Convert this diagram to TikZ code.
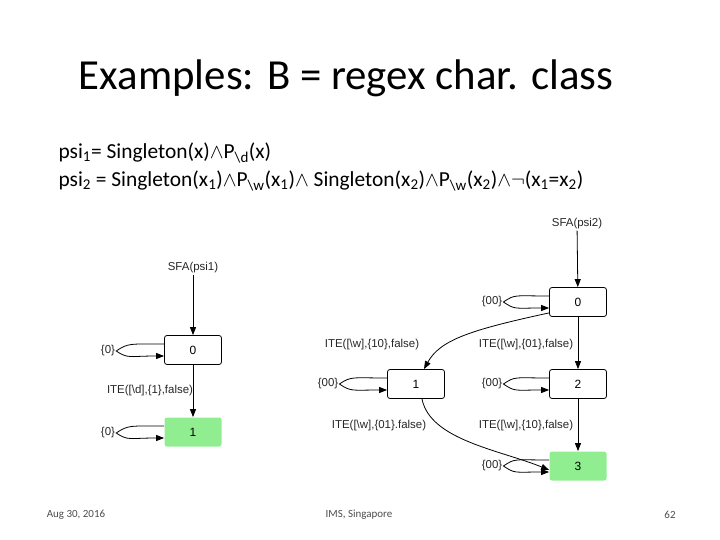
\documentclass[tikz,border=0pt]{standalone}
\usepackage{fontspec}
\setmainfont{Carlito}
\newfontfamily\diag{Liberation Sans}
\usetikzlibrary{arrows.meta}
\definecolor{lg}{RGB}{144,238,144}
\tikzset{
  st/.style={draw, rounded corners=2.5pt, minimum width=57bp, minimum height=29bp, font=\diag\fontsize{12}{14}\selectfont, line width=0.8pt},
  lbl/.style={font=\diag\fontsize{11.5}{13}\selectfont, text=black!85, inner sep=1pt},
  ed/.style={-{Triangle[length=8bp,width=6bp]}, line width=0.8pt},
  foot/.style={font=\fontsize{11}{13}\selectfont, text=black!70}
}
\begin{document}
\begin{tikzpicture}[x=1bp,y=-1bp]
\useasboundingbox (0,0) rectangle (720,540);
\node (title) at (346,78) {\fontsize{43}{50}\selectfont Examples: B = regex char. class};
\node[anchor=west] (l1) at (55,153) {\fontsize{21.5}{26}\selectfont psi\textsubscript{1}= Singleton(x)$\wedge$P\textsubscript{\textbackslash d}(x)};
\node[anchor=west] (l2) at (55,181) {\fontsize{21.5}{26}\selectfont psi\textsubscript{2} = Singleton(x\textsubscript{1})$\wedge$P\textsubscript{\textbackslash w}(x\textsubscript{1})$\wedge$ Singleton(x\textsubscript{2})$\wedge$P\textsubscript{\textbackslash w}(x\textsubscript{2})$\wedge\neg$(x\textsubscript{1}=x\textsubscript{2})};
% left automaton
\node[lbl] (s1) at (193,268) {SFA(psi1)};
\node[st] (a0) at (193,350) {0};
\node[st, draw=none, fill=lg] (a1) at (193,432) {1};
\draw[ed] (s1) -- (a0);
\draw[ed] (a0) -- (a1);
\node[lbl] (ite1) at (150,391) {ITE([\textbackslash d],\{1\},false)};
\node[lbl] (la0) at (108,351) {\{0\}};
\node[lbl] (la1) at (108,433) {\{0\}};
% right automaton
\node[lbl] (s2) at (577,224) {SFA(psi2)};
\node[st] (b0) at (578,302) {0};
\node[st] (b1) at (416,384) {1};
\node[st] (b2) at (578,384) {2};
\node[st, draw=none, fill=lg] (b3) at (578,466) {3};
\draw[ed] (s2) -- (b0);
\draw[ed] (b0) -- (b2);
\draw[ed] (b2) -- (b3);
\draw[ed] ([yshift=4bp]b0.south west) .. controls (470,330) and (440,340) .. ([xshift=8bp]b1.north);
\draw[ed] ([xshift=6bp]b1.south) .. controls (430,440) and (500,450) .. ([yshift=-4bp]b3.west);
\node[lbl] at (372,345) {ITE([\textbackslash w],\{10\},false)};
\node[lbl] at (526,345) {ITE([\textbackslash w],\{01\},false)};
\node[lbl] at (379,426) {ITE([\textbackslash w],\{01\}.false)};
\node[lbl] at (526,426) {ITE([\textbackslash w],\{10\},false)};
\node[lbl] (lb0) at (492,302) {\{00\}};
\node[lbl] (lb1) at (328,384) {\{00\}};
\node[lbl] (lb2) at (492,384) {\{00\}};
\node[lbl] (lb3) at (492,466) {\{00\}};
\foreach \n/\l in {a0/la0, a1/la1, b0/lb0, b1/lb1, b2/lb2, b3/lb3}{
  \draw[ed] ([yshift=6bp]\n.west) .. controls +(-35,0) and +(12,-8) .. (\l.east) .. controls +(12,8) and +(-35,0) .. ([yshift=-6bp]\n.west);
}
% footer
\node[foot] (f1) at (76,515) {Aug 30, 2016};
\node[foot] (f2) at (359,515) {IMS, Singapore};
\node[foot] (f3) at (670,515) {62};
\end{tikzpicture}
\end{document}
